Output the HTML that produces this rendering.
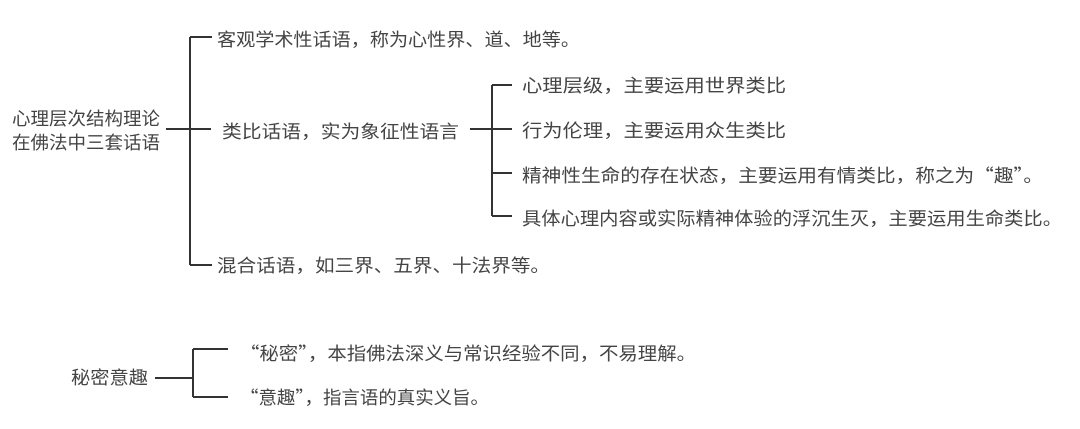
<!DOCTYPE html>
<html><head><meta charset="utf-8"><style>
html,body{margin:0;padding:0;background:#fff;width:1080px;height:429px;overflow:hidden}
text{font-family:"Noto Sans CJK SC","Liberation Sans",sans-serif;font-size:18px;fill:#444}
</style></head><body>
<svg width="1080" height="429" viewBox="0 0 1080 429" xmlns="http://www.w3.org/2000/svg">
<g stroke="#333" stroke-width="2" fill="none">
<path d="M166 129H190M190 37V265M190 37H212M190 129H211M190 265H212"/>
<path d="M470 129H492M492 85V216M492 85H512M492 129H512M492 173H512M492 216H512"/>
<path d="M155 378H193M193 349V397M193 349H228M193 397H228"/>
</g>
<text x="12" y="125" textLength="148" lengthAdjust="spacingAndGlyphs">心理层次结构理论</text>
<text x="12" y="149" textLength="148" lengthAdjust="spacingAndGlyphs">在佛法中三套话语</text>
<text x="217" y="46" textLength="363" lengthAdjust="spacingAndGlyphs">客观学术性话语，称为心性界、道、地等。</text>
<text x="222" y="138" textLength="237" lengthAdjust="spacingAndGlyphs">类比话语，实为象征性语言</text>
<text x="217" y="272" textLength="333" lengthAdjust="spacingAndGlyphs">混合话语，如三界、五界、十法界等。</text>
<text x="522" y="92" textLength="264" lengthAdjust="spacingAndGlyphs">心理层级，主要运用世界类比</text>
<text x="522" y="137" textLength="264" lengthAdjust="spacingAndGlyphs">行为伦理，主要运用众生类比</text>
<text x="522" y="182" textLength="521" lengthAdjust="spacingAndGlyphs">精神性生命的存在状态，主要运用有情类比，称之为“趣”。</text>
<text x="522" y="225" textLength="540" lengthAdjust="spacingAndGlyphs">具体心理内容或实际精神体验的浮沉生灭，主要运用生命类比。</text>
<text x="71" y="384" textLength="77" lengthAdjust="spacingAndGlyphs">秘密意趣</text>
<text x="240" y="360" textLength="456" lengthAdjust="spacingAndGlyphs">“秘密”，本指佛法深义与常识经验不同，不易理解。</text>
<text x="240" y="404" textLength="249" lengthAdjust="spacingAndGlyphs">“意趣”，指言语的真实义旨。</text>
</svg>
</body></html>
